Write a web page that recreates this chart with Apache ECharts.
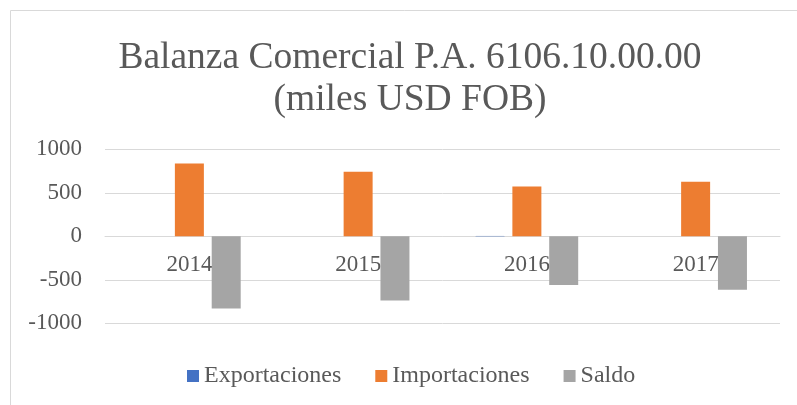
<!DOCTYPE html>
<html>
<head>
<meta charset="utf-8">
<script src="https://cdn.jsdelivr.net/npm/echarts@6/dist/echarts.min.js"></script>
<style>
  html, body { margin: 0; padding: 0; background: #fff; }
  #chart { width: 797px; height: 405px; }
</style>
</head>
<body>
<div id="chart"></div>
<script>
var years = ['2014', '2015', '2016', '2017'];
var exportaciones = [0, 0, 4, 0];
var importaciones = [838, 743, 573, 627];
var saldo = [-830, -738, -561, -615];
var yTicks = [-1000, -500, 0, 500, 1000];

var font = 'Liberation Serif';
var textColor = '#595959';
var lineColor = '#d9d9d9';

var chart = echarts.init(document.getElementById('chart'));
chart.setOption({
    animation: false,
    textStyle: { fontFamily: font },
    graphic: [{
        type: 'rect',
        silent: true,
        shape: { x: 10.5, y: 10.5, width: 900, height: 600 },
        style: { fill: 'none', stroke: lineColor, lineWidth: 1 }
    }],
    title: {
        text: 'Balanza Comercial P.A. 6106.10.00.00\n(miles USD FOB)',
        left: 405,
        textAlign: 'center',
        top: 32,
        textStyle: {
            fontFamily: font,
            fontWeight: 'normal',
            fontSize: 37.5,
            lineHeight: 42,
            color: textColor
        }
    },
    legend: {
        left: 182,
        top: 359,
        itemWidth: 12,
        itemHeight: 12,
        itemGap: 34,
        icon: 'rect',
        textStyle: { fontFamily: font, fontSize: 24, color: textColor },
        data: ['Exportaciones', 'Importaciones', 'Saldo']
    },
    grid: {
        left: 105,
        right: 17,
        top: 149.3,
        height: 174,
        containLabel: false
    },
    xAxis: {
        type: 'category',
        data: years,
        offset: -87,
        axisLine: { onZero: false, lineStyle: { color: lineColor, width: 1 } },
        axisTick: { show: false },
        axisLabel: { margin: 17, fontFamily: font, fontSize: 23, color: textColor }
    },
    yAxis: {
        type: 'value',
        min: yTicks[0],
        max: yTicks[yTicks.length - 1],
        interval: 500,
        axisLine: { show: false },
        axisTick: { show: false },
        splitLine: { lineStyle: { color: lineColor, width: 1 } },
        axisLabel: {
            margin: 23,
            fontFamily: font,
            fontSize: 23,
            color: textColor,
            formatter: function (v) { return String(v); }
        }
    },
    series: [
        {
            name: 'Exportaciones',
            type: 'bar',
            barWidth: 29,
            barGap: '27%',
            itemStyle: { color: '#4472c4' },
            data: exportaciones
        },
        {
            name: 'Importaciones',
            type: 'bar',
            barWidth: 29,
            barGap: '27%',
            itemStyle: { color: '#ed7d31' },
            data: importaciones
        },
        {
            name: 'Saldo',
            type: 'bar',
            barWidth: 29,
            barGap: '27%',
            itemStyle: { color: '#a5a5a5' },
            data: saldo
        }
    ]
});
</script>
</body>
</html>
